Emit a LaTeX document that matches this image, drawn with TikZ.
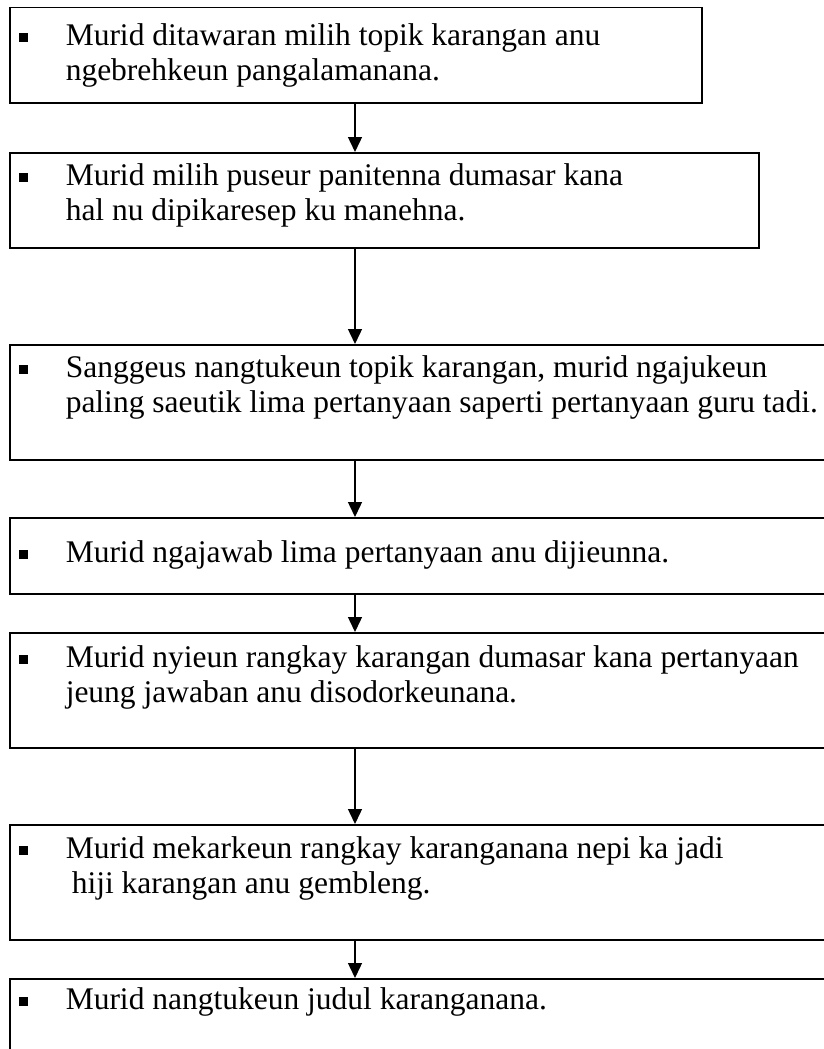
\documentclass[tikz,border=0pt]{standalone}
\usepackage{fontspec}
\setmainfont{Liberation Serif}
\usepackage{tikz}
\usetikzlibrary{arrows.meta}

\newcommand{\stepmark}{\makebox[56pt][l]{\hspace*{9pt}\rule[4pt]{9pt}{9pt}}}
\newcommand{\stepbreak}{\\\hspace*{56pt}}
\newcommand{\steptext}[4]{\parbox[c][#2][t]{#1}{\rule{0pt}{#3}\stepmark #4}}

\tikzset{
	stepbox/.style={draw, line width=1.5pt, inner sep=0pt, anchor=north west,
		font=\fontsize{31.5}{35}\selectfont},
	flow/.style={-{Triangle[length=15pt,width=14pt]}, line width=1.4pt}
}

\begin{document}
\begin{tikzpicture}[x=1pt,y=-1pt]
	
	\useasboundingbox (0,0) rectangle (824,1049);
	\clip (0,0) rectangle (824,1049);
	
	% Draw nodes
	\coordinate (axis) at (355,0);
	\node[stepbox] (s1) at (9,7) {\steptext{692pt}{95pt}{38pt}{Murid ditawaran milih topik karangan anu\stepbreak ngebrehkeun pangalamanana.}};
	\node[stepbox] (s2) at (9,152) {\steptext{749pt}{95pt}{33pt}{Murid milih puseur panitenna dumasar kana\stepbreak hal nu dipikaresep ku manehna.}};
	\node[stepbox] (s3) at (9,344) {\steptext{850pt}{115pt}{33pt}{Sanggeus nangtukeun topik karangan, murid ngajukeun\stepbreak paling saeutik lima pertanyaan saperti pertanyaan guru tadi.}};
	\node[stepbox] (s4) at (9,517) {\steptext{850pt}{76pt}{45pt}{Murid ngajawab lima pertanyaan anu dijieunna.}};
	\node[stepbox] (s5) at (9,632) {\steptext{850pt}{115pt}{35pt}{Murid nyieun rangkay karangan dumasar kana pertanyaan\stepbreak jeung jawaban anu disodorkeunana.}};
	\node[stepbox] (s6) at (9,824) {\steptext{850pt}{115pt}{34pt}{Murid mekarkeun rangkay karanganana nepi ka jadi\stepbreak\hspace*{6pt}hiji karangan anu gembleng.}};
	\node[stepbox] (s7) at (9,978) {\steptext{850pt}{100pt}{31pt}{Murid nangtukeun judul karanganana.}};
	
	% Draw arrows
	\draw[flow] (s1.south -| axis) -- (s2.north -| axis);
	\draw[flow] (s2.south -| axis) -- (s3.north -| axis);
	\draw[flow] (s3.south -| axis) -- (s4.north -| axis);
	\draw[flow] (s4.south -| axis) -- (s5.north -| axis);
	\draw[flow] (s5.south -| axis) -- (s6.north -| axis);
	\draw[flow] (s6.south -| axis) -- (s7.north -| axis);
	
\end{tikzpicture}
\end{document}
